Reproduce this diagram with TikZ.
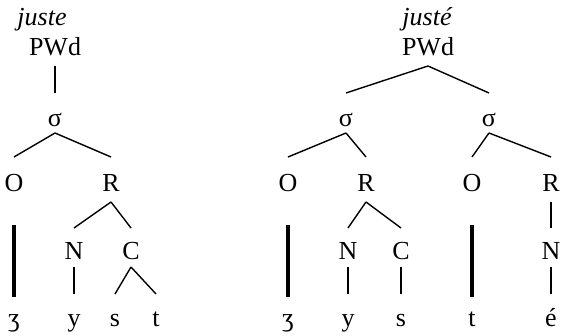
\documentclass[tikz,border=0pt]{standalone}
\usepackage{fontspec}
\setmainfont{Liberation Serif}
\begin{document}
\begin{tikzpicture}[x=0.5pt,y=-0.5pt,
        lab/.style={anchor=base,inner sep=0pt,font=\fontsize{13}{15}\selectfont},
        word/.style={lab,font=\fontsize{13}{15}\selectfont\itshape},
        branch/.style={line width=0.7pt},
        assoc/.style={line width=1.6pt}]
        \useasboundingbox (0,0) rectangle (562,336);

        % Heights where the lines start and stop
        \coordinate (top0) at (0,66);  \coordinate (bot0) at (0,93);
        \coordinate (top1) at (0,133); \coordinate (bot1) at (0,157);
        \coordinate (top2) at (0,202); \coordinate (bot2) at (0,228);
        \coordinate (top3) at (0,267); \coordinate (bot3) at (0,294);
        \coordinate (topB) at (0,225); \coordinate (botB) at (0,297);

        % juste
        \node[word] (wA) at (42,26) {juste};
        \node[lab] (pA) at (55,56) {PWd};
        \node[lab] (sigA) at (55,127) {σ};
        \node[lab] (oA) at (14,192) {O};
        \node[lab] (rA) at (111,192) {R};
        \node[lab] (nA) at (74,260) {N};
        \node[lab] (cA) at (131,260) {C};
        \node[lab] (zA) at (14,326) {ʒ};
        \node[lab] (yA) at (74,326) {y};
        \node[lab] (sA) at (115,326) {s};
        \node[lab] (tA) at (156,326) {t};

        \draw[branch] (pA |- top0) -- (sigA |- bot0);
        \draw[branch] (sigA |- top1) -- (oA |- bot1);
        \draw[branch] (sigA |- top1) -- (rA |- bot1);
        \draw[branch] (rA |- top2) -- (nA |- bot2);
        \draw[branch] (rA |- top2) -- (cA |- bot2);
        \draw[assoc] (oA |- topB) -- (zA |- botB);
        \draw[branch] (nA |- top3) -- (yA |- bot3);
        \draw[branch] (cA |- top3) -- (sA |- bot3);
        \draw[branch] (cA |- top3) -- (tA |- bot3);

        % justé
        \node[word] (wB) at (427,26) {justé};
        \node[lab] (pB) at (428,56) {PWd};
        \node[lab] (sigB1) at (346,127) {σ};
        \node[lab] (sigB2) at (489,127) {σ};
        \node[lab] (oB1) at (288,192) {O};
        \node[lab] (rB1) at (366,192) {R};
        \node[lab] (oB2) at (472,192) {O};
        \node[lab] (rB2) at (551,192) {R};
        \node[lab] (nB1) at (348,260) {N};
        \node[lab] (cB1) at (401,260) {C};
        \node[lab] (nB2) at (551,260) {N};
        \node[lab] (zB) at (288,326) {ʒ};
        \node[lab] (yB) at (348,326) {y};
        \node[lab] (sB) at (401,326) {s};
        \node[lab] (tB) at (472,326) {t};
        \node[lab] (eB) at (551,326) {é};

        \draw[branch] (pB |- top0) -- (sigB1 |- bot0);
        \draw[branch] (pB |- top0) -- (sigB2 |- bot0);
        \draw[branch] (sigB1 |- top1) -- (oB1 |- bot1);
        \draw[branch] (sigB1 |- top1) -- (rB1 |- bot1);
        \draw[branch] (sigB2 |- top1) -- (oB2 |- bot1);
        \draw[branch] (sigB2 |- top1) -- (rB2 |- bot1);
        \draw[branch] (rB1 |- top2) -- (nB1 |- bot2);
        \draw[branch] (rB1 |- top2) -- (cB1 |- bot2);
        \draw[branch] (rB2 |- top2) -- (nB2 |- bot2);
        \draw[assoc] (oB1 |- topB) -- (zB |- botB);
        \draw[branch] (nB1 |- top3) -- (yB |- bot3);
        \draw[branch] (cB1 |- top3) -- (sB |- bot3);
        \draw[assoc] (oB2 |- topB) -- (tB |- botB);
        \draw[branch] (nB2 |- top3) -- (eB |- bot3);

    \end{tikzpicture}
\end{document}
